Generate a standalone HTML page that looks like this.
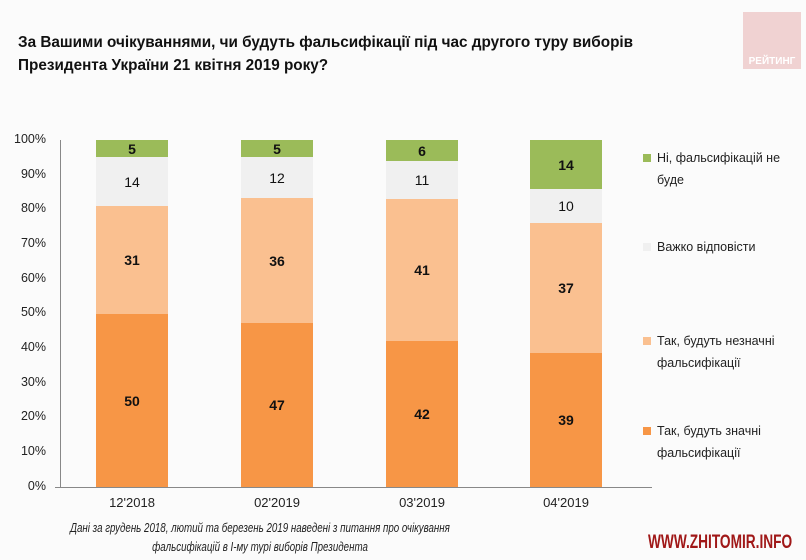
<!DOCTYPE html>
<html><head><meta charset="utf-8"><style>
body{margin:0;width:806px;height:560px;background:#fbfbfb;overflow:hidden;font-family:"Liberation Sans",sans-serif;position:relative}
.t{position:absolute;left:18px;top:31px;font-size:15.3px;font-weight:bold;line-height:23px;color:#111}
.logo{position:absolute;left:743px;top:12px;width:58px;height:57px;background:#f0d2d2;color:#fff;font-size:10px;font-weight:bold;text-align:center;box-sizing:border-box;padding-top:44px}
.yl{position:absolute;left:10px;width:36px;text-align:right;font-size:12.5px;color:#222}
.seg{position:absolute;width:72px;display:flex;align-items:center;justify-content:center;font-size:14px;color:#111}
.b{font-weight:bold}
.xl{position:absolute;top:495px;width:120px;text-align:center;font-size:13px;color:#222}
.lg{position:absolute;left:643px;width:8px;height:8px}
.lt{position:absolute;left:657px;font-size:12.5px;line-height:22px;color:#222}
.note{position:absolute;top:519px;left:-60px;width:640px;text-align:center;font-style:italic;font-size:12.5px;line-height:19px;color:#222;white-space:nowrap;transform:scaleX(0.78);transform-origin:center top}
.wm{position:absolute;left:648px;top:532px;font-size:19px;font-weight:bold;color:#a01818;white-space:nowrap;transform:scaleX(0.72);transform-origin:left top}
</style></head><body>
<div class="t">За Вашими очікуваннями, чи будуть фальсифікації під час другого туру виборів<br>Президента України 21 квітня 2019 року?</div>
<div class="logo">РЕЙТИНГ</div>
<div style="position:absolute;left:60px;top:140px;width:1px;height:347px;background:#888"></div>
<div style="position:absolute;left:55px;top:487px;width:597px;height:1px;background:#888"></div>
<div class="yl" style="top:132px">100%</div><div class="yl" style="top:167px">90%</div><div class="yl" style="top:201px">80%</div><div class="yl" style="top:236px">70%</div><div class="yl" style="top:271px">60%</div><div class="yl" style="top:305px">50%</div><div class="yl" style="top:340px">40%</div><div class="yl" style="top:375px">30%</div><div class="yl" style="top:409px">20%</div><div class="yl" style="top:444px">10%</div><div class="yl" style="top:479px">0%</div>

<div class="seg b" style="left:96px;top:314px;height:173px;background:#f79646">50</div>
<div class="seg b" style="left:96px;top:206px;height:108px;background:#fac090">31</div>
<div class="seg" style="left:96px;top:157px;height:49px;background:#f0f0f0">14</div>
<div class="seg b" style="left:96px;top:140px;height:17px;background:#9bbb59">5</div>

<div class="seg b" style="left:241px;top:323px;height:164px;background:#f79646">47</div>
<div class="seg b" style="left:241px;top:198px;height:125px;background:#fac090">36</div>
<div class="seg" style="left:241px;top:157px;height:41px;background:#f0f0f0">12</div>
<div class="seg b" style="left:241px;top:140px;height:17px;background:#9bbb59">5</div>

<div class="seg b" style="left:386px;top:341px;height:146px;background:#f79646">42</div>
<div class="seg b" style="left:386px;top:199px;height:142px;background:#fac090">41</div>
<div class="seg" style="left:386px;top:161px;height:38px;background:#f0f0f0">11</div>
<div class="seg b" style="left:386px;top:140px;height:21px;background:#9bbb59">6</div>

<div class="seg b" style="left:530px;top:353px;height:134px;background:#f79646">39</div>
<div class="seg b" style="left:530px;top:223px;height:130px;background:#fac090">37</div>
<div class="seg" style="left:530px;top:189px;height:34px;background:#f0f0f0">10</div>
<div class="seg b" style="left:530px;top:140px;height:49px;background:#9bbb59">14</div>

<div class="xl" style="left:72px">12'2018</div><div class="xl" style="left:217px">02'2019</div><div class="xl" style="left:362px">03'2019</div><div class="xl" style="left:506px">04'2019</div>

<div class="lg" style="top:154px;background:#9bbb59"></div><div class="lt" style="top:147px">Ні, фальсифікацій не<br>буде</div>
<div class="lg" style="top:243px;background:#f0f0f0"></div><div class="lt" style="top:236px">Важко відповісти</div>
<div class="lg" style="top:337px;background:#fac090"></div><div class="lt" style="top:330px">Так, будуть незначні<br>фальсифікації</div>
<div class="lg" style="top:427px;background:#f79646"></div><div class="lt" style="top:420px">Так, будуть значні<br>фальсифікації</div>

<div class="note">Дані за грудень 2018, лютий та березень 2019 наведені з питання про очікування<br>фальсифікацій в І-му турі виборів Президента</div>
<div class="wm">WWW.ZHITOMIR.INFO</div>
</body></html>
